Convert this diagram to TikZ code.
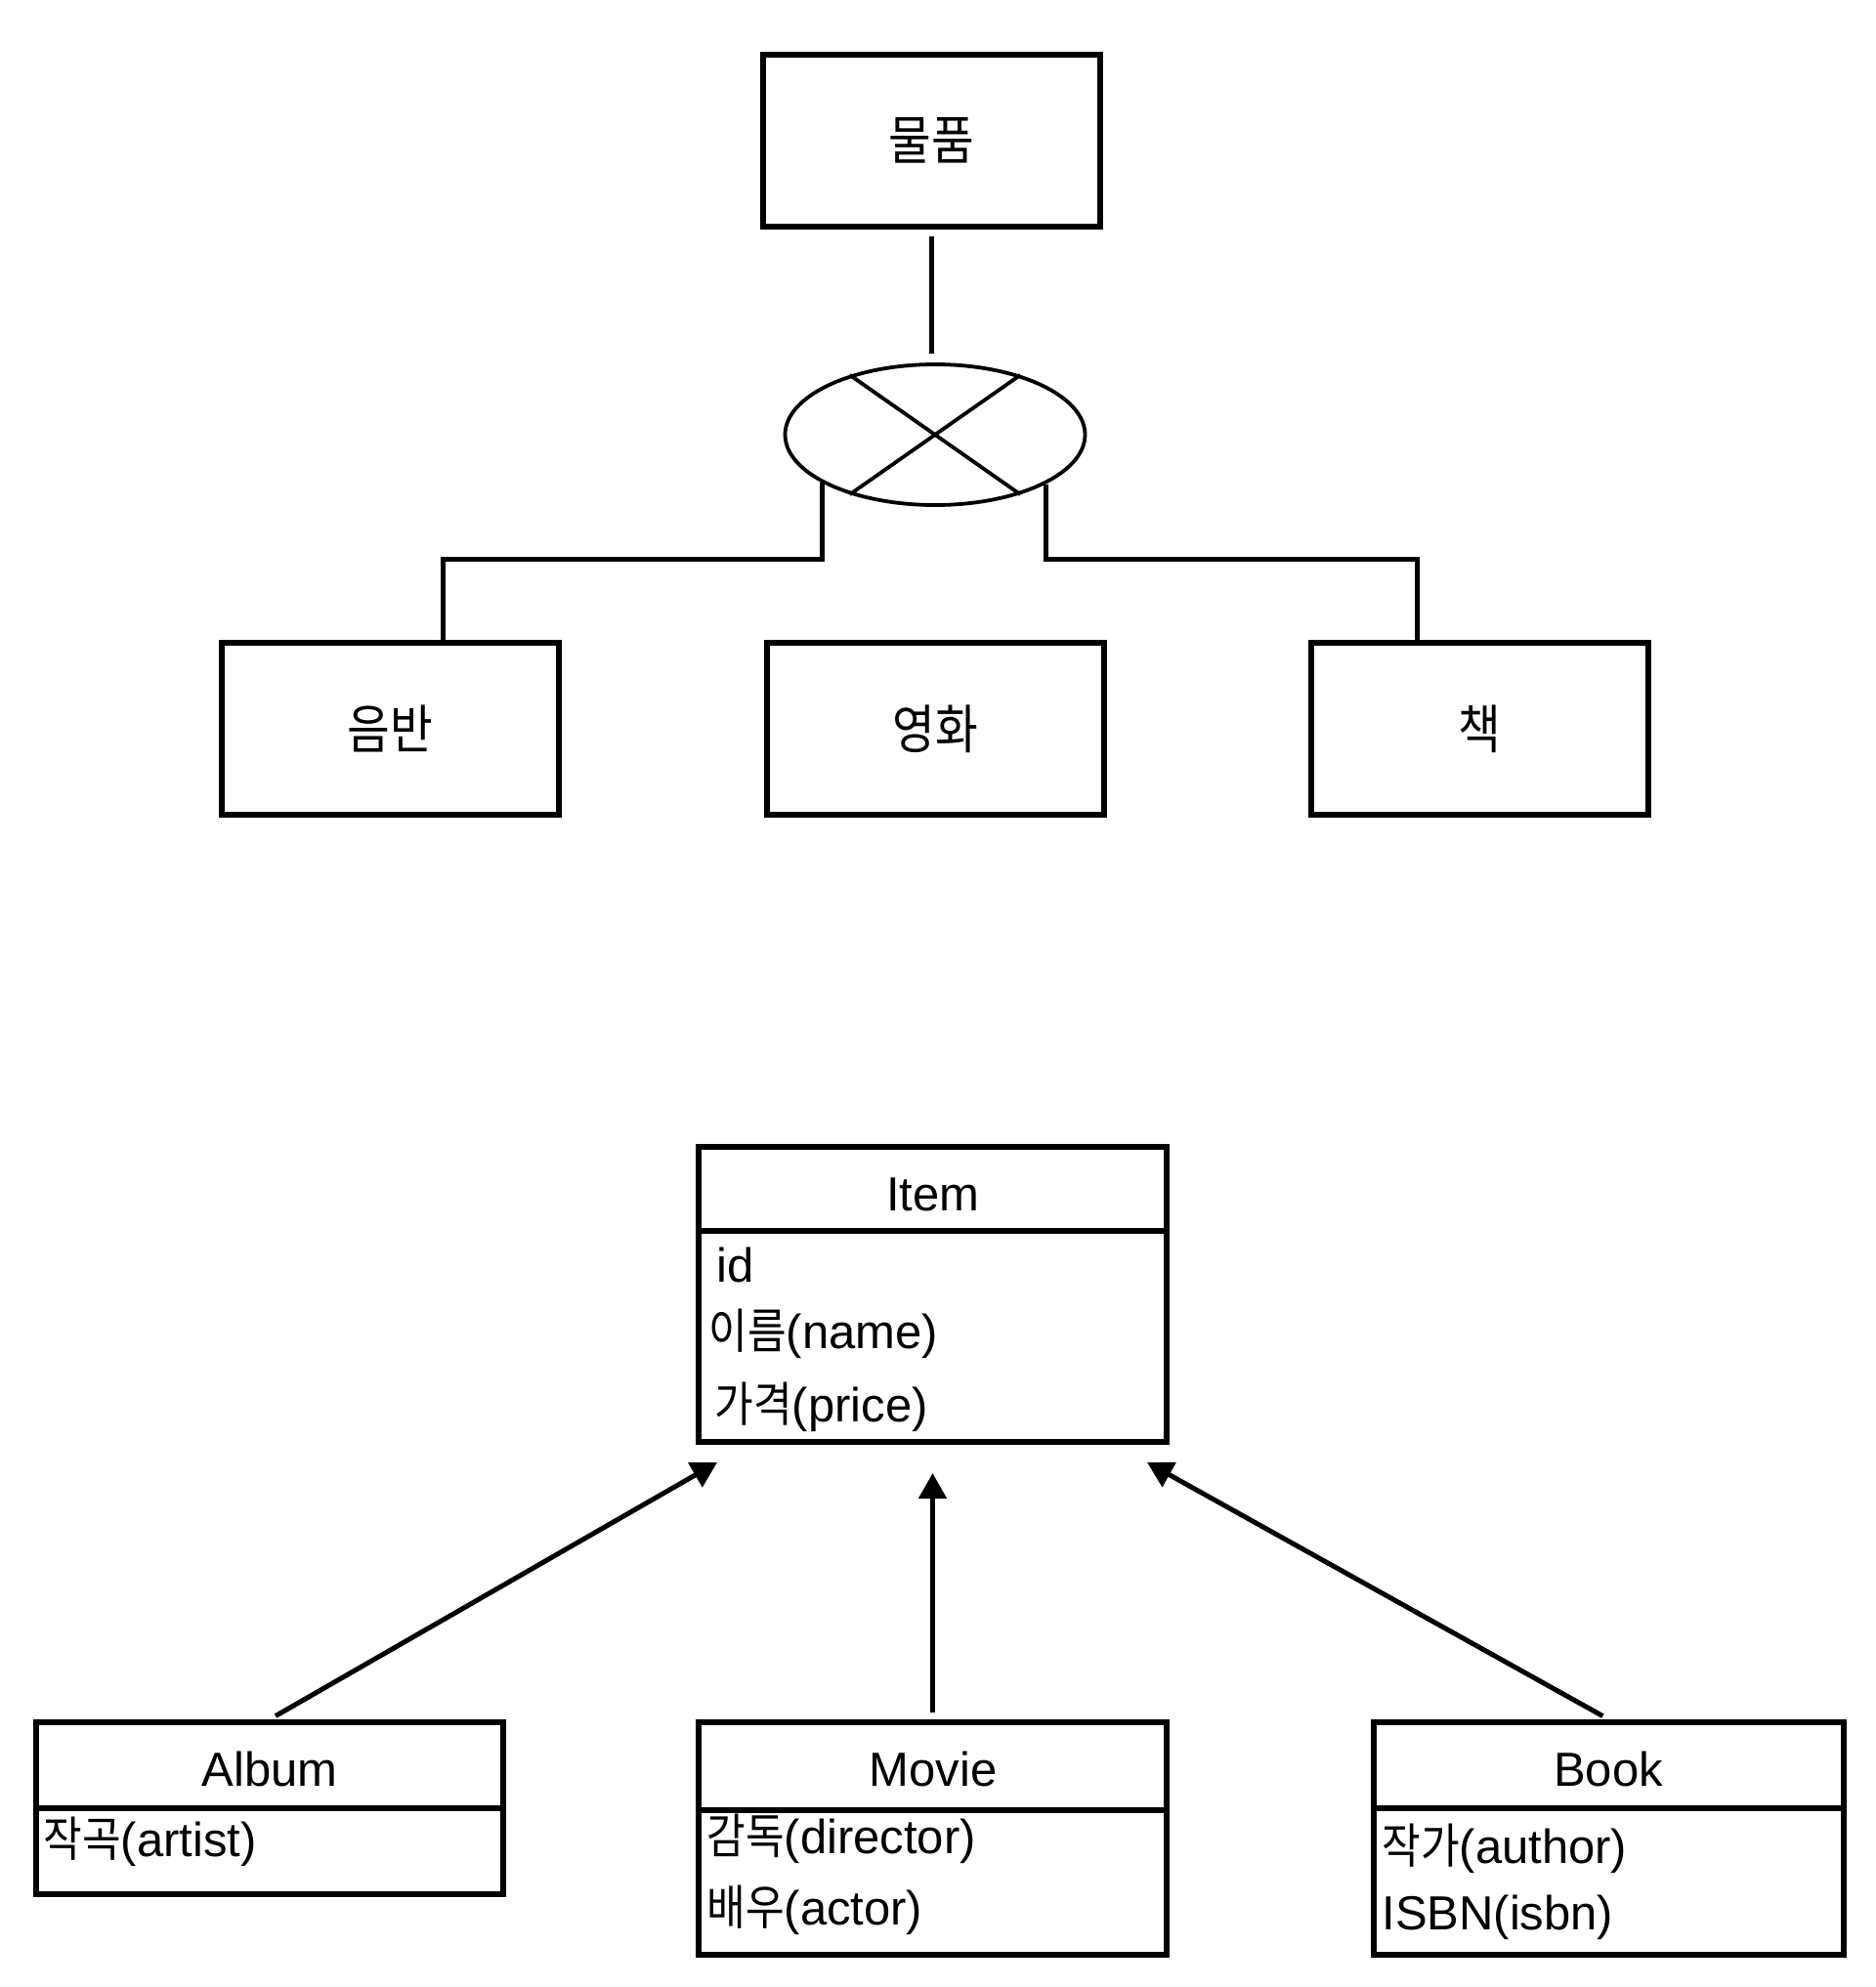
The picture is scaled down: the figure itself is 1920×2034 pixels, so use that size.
\documentclass[tikz,border=0pt]{standalone}
\usepackage{fontspec}
\setmainfont{Liberation Sans}
\newfontfamily\kr[Scale=1.0,FakeStretch=0.88]{Noto Sans CJK KR}
\usetikzlibrary{shapes.geometric,arrows.meta,calc}
\begin{document}
\begin{tikzpicture}[x=0.5pt,y=-0.5pt,
  ent/.style={draw, line width=3pt, minimum width=172.5pt, minimum height=88pt, inner sep=0pt, font=\fontsize{27}{30}\selectfont\kr},
  conn/.style={line width=2.5pt},
  isa/.style={draw, ellipse, line width=1.9pt, minimum width=153.5pt, minimum height=72pt, inner sep=0pt},
  uml/.style={draw, line width=3pt, inner sep=0pt, minimum width=239.5pt},
  div/.style={line width=3pt},
  ttl/.style={anchor=base, inner sep=0pt, font=\fontsize{24.5}{29}\selectfont},
  attr/.style={anchor=base west, inner sep=0pt, font=\fontsize{24.5}{29}\selectfont},
  inh/.style={line width=2.5pt, -{Triangle[length=13pt,width=14pt]}}
]
\useasboundingbox (0,0) rectangle (1920,2034);

% ---------- ER part ----------
\node[ent] (goods) at (953.5,144) {물품};
\node[isa] (isa) at (957,445) {};
\draw[line width=1.9pt] (isa.145) -- (isa.325);
\draw[line width=1.9pt] (isa.35) -- (isa.215);
\node[ent] (eumban) at (399.5,746) {음반};
\node[ent] (yeonghwa) at (957,746) {영화};
\node[ent] (chaek) at (1514,746) {책};

\coordinate (lvl) at (0,572);
\draw[conn, shorten <=3.5pt, shorten >=4.5pt] (goods.south) -- (goods.south |- isa.north);
\draw[conn] (isa.203) -- (isa.203 |- lvl) -| ([xshift=27pt]eumban.north);
\draw[conn] (isa.336) -- (isa.336 |- lvl) -| ([xshift=-32pt]chaek.north);

% ---------- class part ----------
\node[uml, minimum height=151pt] (itemc) at (954.5,1325) {};
\coordinate (d1) at (0,1260);
\draw[div] (itemc.west |- d1) -- (itemc.east |- d1);
\node[ttl] (itemt) at (955,1239) {Item};
\node[attr] (ia1) at (733,1312) {id};
\node[attr] (ia2) at (725,1380) {{\kr 이름}(name)};
\node[attr] (ia3) at (731,1455) {{\kr 가격}(price)};

\node[uml, minimum width=239pt, minimum height=88pt] (album) at (276,1851) {};
\coordinate (d2) at (0,1851);
\draw[div] (album.west |- d2) -- (album.east |- d2);
\node[ttl] (albumt) at (276,1828) {Album};
\node[attr] (aa1) at (44,1900) {{\kr 작곡}(artist)};

\node[uml, minimum height=119pt] (movie) at (954.5,1882) {};
\coordinate (d3) at (0,1853);
\draw[div] (movie.west |- d3) -- (movie.east |- d3);
\node[ttl] (moviet) at (955,1828) {Movie};
\node[attr] (ma1) at (723,1897) {{\kr 감독}(director)};
\node[attr] (ma2) at (723,1970) {{\kr 배우}(actor)};

\node[uml, minimum width=240.5pt, minimum height=119pt] (book) at (1646.5,1882) {};
\draw[div] (book.west |- d2) -- (book.east |- d2);
\node[ttl] (bookt) at (1646,1828) {Book};
\node[attr] (ba1) at (1414,1907) {{\kr 작가}(author)};
\node[attr] (ba2) at (1414,1975) {ISBN(isbn)};

\coordinate (tA) at ($(itemc.south west)+(22,18)$);
\coordinate (tM) at ($(itemc.south)+(0,29)$);
\coordinate (tB) at ($(itemc.south east)+(-23,18)$);
\draw[inh, shorten <=3.5pt] (album.north) -- (tA);
\draw[inh, shorten <=3.5pt] (movie.north) -- (tM);
\draw[inh, shorten <=3.5pt] (book.north) -- (tB);
\end{tikzpicture}
\end{document}
